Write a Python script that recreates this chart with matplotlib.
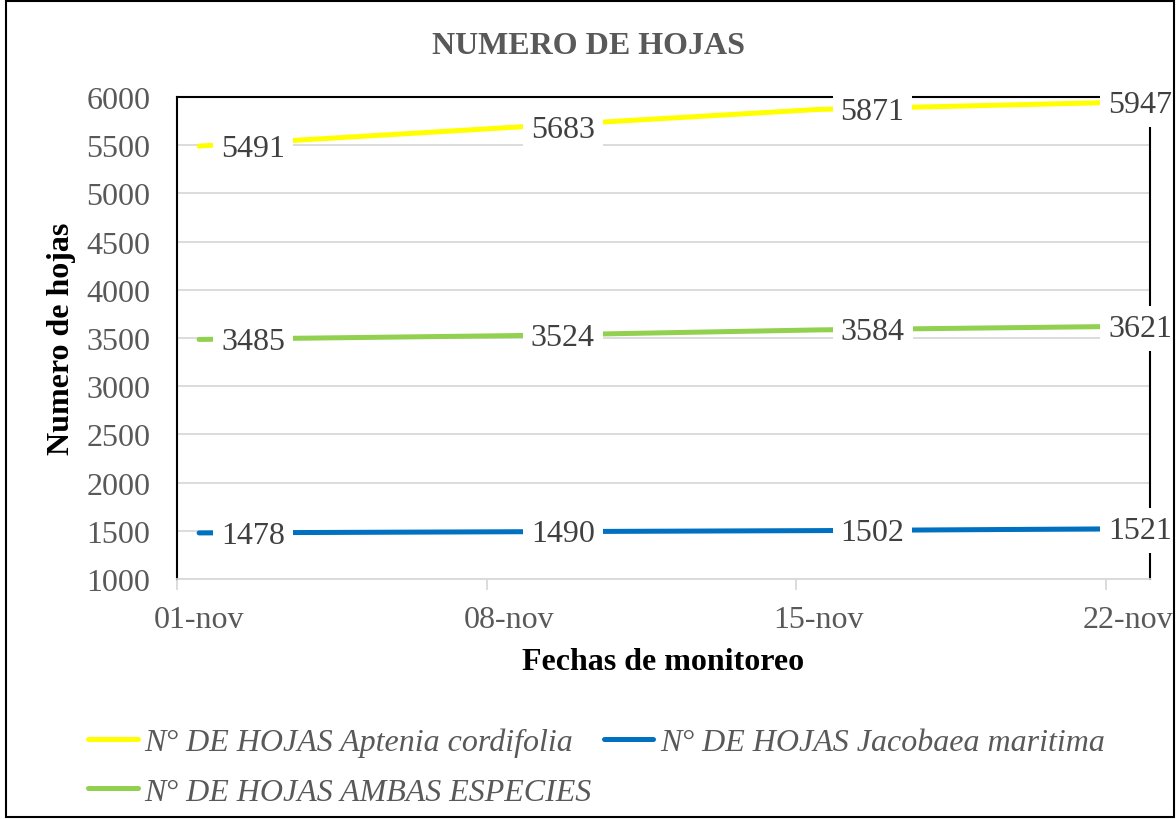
import matplotlib
matplotlib.use("Agg")
import matplotlib.pyplot as plt
from matplotlib.patches import Rectangle

# ---- data ----
dates = ["01-nov", "08-nov", "15-nov", "22-nov"]
days = [1, 8, 15, 22]
aptenia = [5491, 5683, 5871, 5947]
jacobaea = [1478, 1490, 1502, 1521]
ambas = [3485, 3524, 3584, 3621]
series_names = ["N° DE HOJAS Aptenia cordifolia",
                "N° DE HOJAS Jacobaea maritima",
                "N° DE HOJAS AMBAS ESPECIES"]
colors = ["#FFFF00", "#0070C0", "#92D050"]
yticks = [1000, 1500, 2000, 2500, 3000, 3500, 4000, 4500, 5000, 5500, 6000]

plt.rcParams['font.family'] = ['Liberation Serif', 'DejaVu Serif']
FS = 23

fig = plt.figure(figsize=(11.76, 8.2), dpi=100)
ax = fig.add_axes([177/1176, 1 - 580/820, (1150-177)/1176, (580-98)/820])

handles = []
for vals, c, name in zip([aptenia, jacobaea, ambas], colors, series_names):
    h, = ax.plot(days, vals, color=c, lw=3.6, solid_capstyle='round', zorder=3, label=name)
    handles.append(h)
    for i, (d, v) in enumerate(zip(days, vals)):
        off = 16 if i < len(days) - 1 else -14
        ax.annotate(str(v), (d, v), xytext=(off, -1.5), textcoords='offset points',
                    ha='left', va='center', fontsize=FS, color='#404040',
                    bbox=dict(boxstyle='square,pad=0.25', fc='white', ec='none'),
                    zorder=5, annotation_clip=False, clip_on=False)

ax.set_xlim(days[0] - 0.5, days[-1] + 0.5)
ax.set_ylim(yticks[0], yticks[-1])
ax.set_yticks(yticks)
ax.yaxis.grid(True, color='#d9d9d9', lw=1.3, zorder=0)
ax.set_axisbelow(True)

ax.set_xticks([d - 0.5 for d in days])
ax.set_xticklabels([])
ax.set_xticks(days, minor=True)
ax.set_xticklabels(dates, minor=True)
ax.tick_params(axis='x', which='major', length=8, color='#d9d9d9', width=1.3)
ax.tick_params(axis='x', which='minor', length=0, pad=19, labelsize=FS, labelcolor='#595959')
ax.tick_params(axis='y', length=0, pad=19, labelsize=FS, labelcolor='#595959')

for s in ['left', 'top', 'right']:
    ax.spines[s].set_color('black')
    ax.spines[s].set_linewidth(1.5)
ax.spines['bottom'].set_color('#d9d9d9')
ax.spines['bottom'].set_linewidth(1.3)

ax.set_xlabel("Fechas de monitoreo", fontsize=FS, fontweight='bold', color='black')
ax.set_ylabel("Numero de hojas", fontsize=FS, fontweight='bold', color='black')
ax.xaxis.set_label_coords(0.5, (580 - 663) / 482)
ax.xaxis.label.set_va('center')
ax.yaxis.set_label_coords((62 - 177) / 973, 0.5)
ax.yaxis.label.set_va('center')

fig.text(0.5, 1 - 46/820, "NUMERO DE HOJAS", ha='center', va='center',
         fontsize=FS, fontweight='bold', color='#595959')

order = [0, 2, 1]
leg = fig.legend(handles=[handles[i] for i in order], loc='upper left',
                 bbox_to_anchor=(88/1176, 1 - 729/820), borderpad=0, borderaxespad=0,
                 ncol=2, frameon=False, handlelength=1.55, handletextpad=0.2,
                 columnspacing=0.4, labelspacing=0.62,
                 prop=dict(family='Liberation Serif', style='italic', size=FS))
for t in leg.get_texts():
    t.set_color('#595959')

fig.add_artist(Rectangle((0.005, 0.002), 0.993, 0.996, transform=fig.transFigure,
                         fill=False, ec='black', lw=1.5))

fig.savefig("out.png", dpi=100)
